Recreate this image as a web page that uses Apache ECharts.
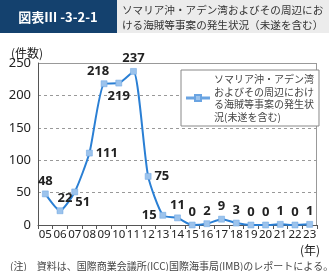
<!DOCTYPE html>
<html><head><meta charset="utf-8">
<script src="https://cdn.jsdelivr.net/npm/echarts@6/dist/echarts.min.js"></script>
<style>html,body{margin:0;padding:0;background:#fff}#c{width:329px;height:271px}</style>
</head><body><div id="c"></div>
<script>
const categories = ['05','06','07','08','09','10','11','12','13','14','15','16','17','18','19','20','21','22','23'];
const values = [48,22,51,111,218,219,237,75,15,11,0,2,9,3,0,0,1,0,1];
const labelPositions = ['top','top','bottom','right','top','bottom','top','right','left','top','top','top','top','top','top','top','top','top','top'];
const yTicks = [0,50,100,150,200,250];
const seriesName = 'ソマリア沖・アデン湾\nおよびその周辺におけ\nる海賊等事案の発生状\n況(未遂を含む)';
const titleCode = '図表Ⅲ -3-2-1';
const titleLines = ['ソマリア沖・アデン湾およびその周辺にお','ける海賊等事案の発生状況（未遂を含む）'];
const note = '(注)　資料は、国際商業会議所(ICC)国際海事局(IMB)のレポートによる。';

const font = '"Noto Sans CJK JP", "Noto Sans", sans-serif';
const labelOffsets = {2:[8,-2],1:[5,0],4:[-6,0]};
const data = values.map((v,i)=>({
  value: v,
  label: {position: labelPositions[i], offset: labelOffsets[i] || [0,0]}
}));

const chart = echarts.init(document.getElementById('c'));
chart.setOption({
  animation:false,
  textStyle:{fontFamily:font},
  grid:{left:38,right:12,top:63,bottom:46},
  xAxis:{
    type:'category', data:categories, boundaryGap:true,
    axisLine:{lineStyle:{color:'#555'}},
    axisTick:{show:true,length:4,lineStyle:{color:'#555'}},
    axisLabel:{color:'#222',fontSize:11.5,margin:4,interval:0,fontFamily:'"Noto Sans", sans-serif'}
  },
  yAxis:{
    type:'value', min:0, max:250, interval:50,
    axisLine:{show:true,lineStyle:{color:'#555'}},
    axisTick:{show:false},
    axisLabel:{color:'#222',fontSize:13,margin:7,fontFamily:'"Noto Sans", sans-serif'},
    splitLine:{show:true,lineStyle:{color:'#999',type:[3,3]}}
  },
  legend:{
    show:true, left:181, top:70, orient:'vertical',
    backgroundColor:'#fff', borderColor:'#888', borderWidth:1,
    padding:[3,5,3,5], itemWidth:22, itemHeight:8, itemGap:0,
    textStyle:{color:'#444',fontSize:10,lineHeight:12.5,fontFamily:font},
    data:[{name:seriesName, icon:'path://M0,3.5L8,3.5L8,1L14,1L14,3.5L22,3.5L22,4.5L14,4.5L14,7L8,7L8,4.5L0,4.5Z'}]
  },
  series:[{
    name:seriesName, type:'line', data:data, smooth:0.2,
    symbol:'rect', symbolSize:6,
    lineStyle:{color:'#2a7fd4',width:2},
    itemStyle:{color:'#9cc3ec',borderColor:'#6aa4e2',borderWidth:0.5},
    label:{show:true,color:'#222',fontSize:13,fontWeight:'bold',distance:3,fontFamily:'"Noto Sans", sans-serif'},
    z:3
  }],
  graphic:[
    {type:'line',shape:{x1:38,y1:63.5,x2:317,y2:63.5},style:{stroke:'#999',lineWidth:1}},
    {type:'line',shape:{x1:316.5,y1:63,x2:316.5,y2:225},style:{stroke:'#999',lineWidth:1}},
    {type:'rect',shape:{x:0,y:0,width:117,height:33},style:{fill:'#14416e'}},
    {type:'rect',shape:{x:117,y:0,width:212,height:33},style:{fill:'#ececec'}},
    {type:'text',x:58,y:17,style:{text:titleCode,fill:'#fff',fontSize:13,fontWeight:'bold',align:'center',verticalAlign:'middle',fontFamily:font}},
    {type:'text',x:122,y:10,style:{text:titleLines[0],fill:'#333',fontSize:10.6,verticalAlign:'middle',fontFamily:font}},
    {type:'text',x:122,y:25,style:{text:titleLines[1],fill:'#333',fontSize:10.6,verticalAlign:'middle',fontFamily:font}},
    {type:'text',x:11,y:53,style:{text:'(件数)',fill:'#222',fontSize:12,verticalAlign:'middle',fontFamily:font}},
    {type:'text',x:300,y:250,style:{text:'(年)',fill:'#222',fontSize:12,verticalAlign:'middle',fontFamily:font}},
    {type:'text',x:10,y:266,style:{text:note,fill:'#444',fontSize:10,verticalAlign:'middle',fontFamily:font}}
  ]
});
</script></body></html>
